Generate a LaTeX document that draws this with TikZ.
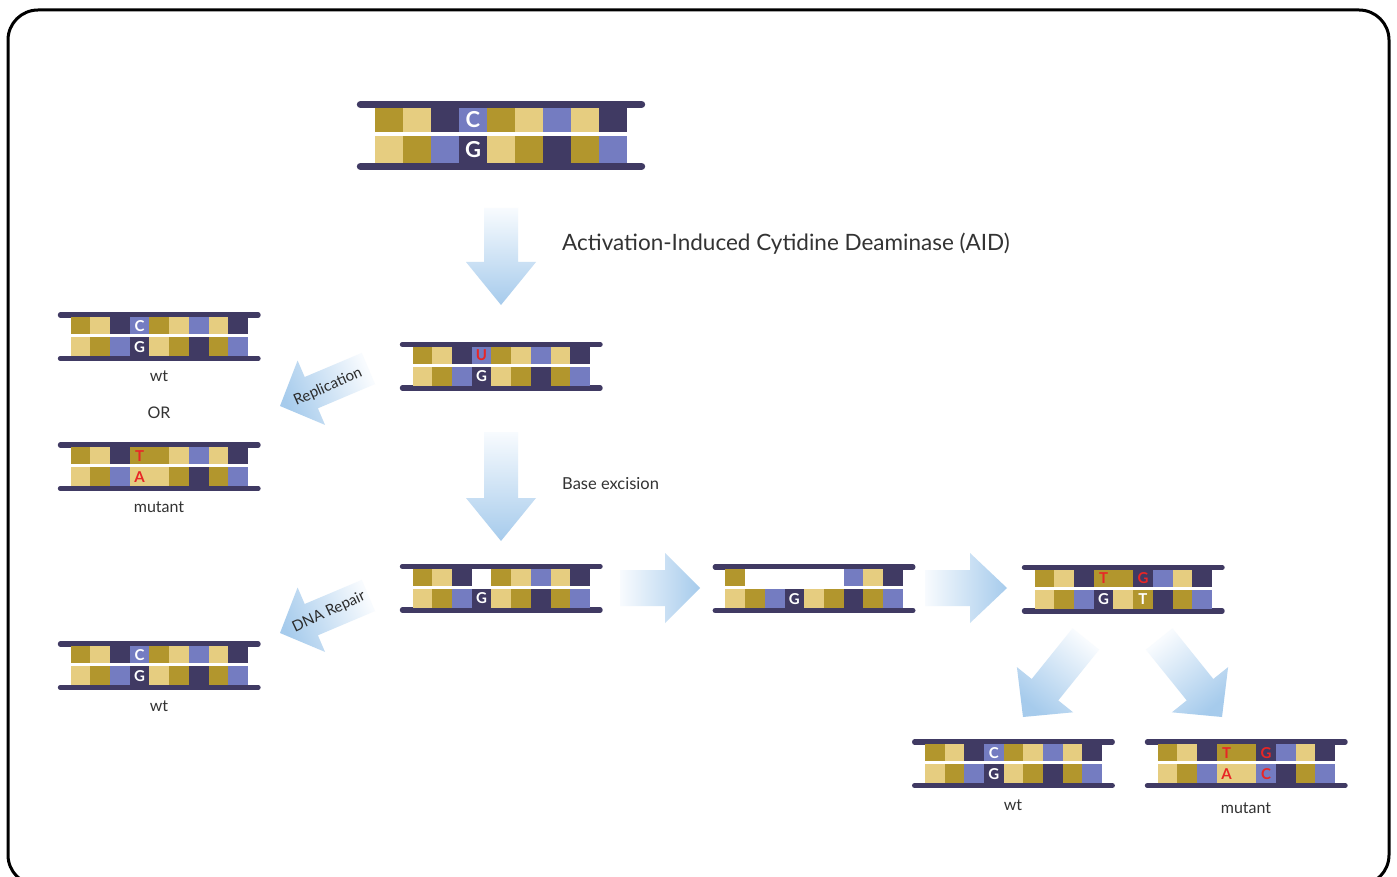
\documentclass[tikz,border=0pt]{standalone}
\usepackage{fontspec}
\setmainfont{Lato}
\usetikzlibrary{calc}

% base colours
\definecolor{dg}{RGB}{178,150,45}
\definecolor{lg}{RGB}{230,205,128}
\definecolor{bl}{RGB}{116,124,193}
\definecolor{dp}{RGB}{64,58,99}
\definecolor{mutred}{RGB}{232,38,38}
\definecolor{labelgray}{RGB}{51,51,51}
\definecolor{arrowblue}{RGB}{166,203,236}
\definecolor{arrowpale}{RGB}{248,251,254}

% one DNA piece: name, x of first cell, y of top backbone, cell size, top row, bottom row
\newcommand\dnastrand[6]{%
  \begin{scope}[shift={(#2,#3)}, x=#4pt, y=-#4pt]
    \draw[dp, line width=0.26*#4pt, line cap=round] (-0.52,0) -- (9.52,0);
    \draw[dp, line width=0.26*#4pt, line cap=round] (-0.52,2.21) -- (9.52,2.21);
    \foreach \c [count=\i from 0] in {#5} {
      \fill[fill=\c] (\i,0.12) rectangle (\i+1,0.98);
      \coordinate (#1-t\i) at (\i+0.5,0.55);
    }
    \foreach \c [count=\i from 0] in {#6} {
      \fill[fill=\c] (\i,1.14) rectangle (\i+1,2.09);
      \coordinate (#1-b\i) at (\i+0.5,1.615);
    }
  \end{scope}}

\tikzset{
  biglet/.style={font=\fontsize{22}{22}\selectfont\bfseries, text=white, inner sep=0pt},
  smalllet/.style={font=\fontsize{15}{15}\selectfont\bfseries, text=white, inner sep=0pt},
  redlet/.style={text=mutred},
  caption/.style={font=\fontsize{16}{16}\selectfont, text=labelgray, inner sep=0pt, anchor=base},
  arrowlabel/.style={font=\fontsize{15}{15}\selectfont, text=labelgray!85!black, inner sep=0pt},
  downarrow/.style={top color=arrowpale, bottom color=arrowblue, draw=none},
  rightarrow/.style={left color=arrowpale, right color=arrowblue, draw=none},
}

\begin{document}
\begin{tikzpicture}[x=1pt, y=-1pt]
\useasboundingbox (0,0) rectangle (1397,877);
\fill[white] (0,0) rectangle (1397,877);
\draw[line width=3pt, rounded corners=30pt] (8,10) rectangle (1389,885);

% ---- DNA pieces ----
\dnastrand{top}{375}{104.5}{28}{dg,lg,dp,bl,dg,lg,bl,lg,dp}{lg,dg,bl,dp,lg,dg,dp,dg,bl}
\dnastrand{udna}{412.6}{344.5}{19.7}{dg,lg,dp,bl,dg,lg,bl,lg,dp}{lg,dg,bl,dp,lg,dg,dp,dg,bl}
\dnastrand{lwt}{70.6}{315}{19.7}{dg,lg,dp,bl,dg,lg,bl,lg,dp}{lg,dg,bl,dp,lg,dg,dp,dg,bl}
\dnastrand{lmut}{70.6}{445}{19.7}{dg,lg,dp,dg,dg,lg,bl,lg,dp}{lg,dg,bl,lg,lg,dg,dp,dg,bl}
\dnastrand{exc}{412.6}{566.5}{19.7}{dg,lg,dp,white,dg,lg,bl,lg,dp}{lg,dg,bl,dp,lg,dg,dp,dg,bl}
\dnastrand{gap}{725.4}{567}{19.7}{dg,white,white,white,white,white,bl,lg,dp}{lg,dg,bl,dp,lg,dg,dp,dg,bl}
\dnastrand{rep}{1034.6}{567.5}{19.7}{dg,lg,dp,dg,dg,dp,bl,lg,dp}{lg,dg,bl,dp,lg,dg,dp,dg,bl}
\dnastrand{rwt}{924.8}{742}{19.7}{dg,lg,dp,bl,dg,lg,bl,lg,dp}{lg,dg,bl,dp,lg,dg,dp,dg,bl}
\dnastrand{rmut}{1157.6}{742}{19.7}{dg,lg,dp,dg,dg,dp,bl,lg,dp}{lg,dg,bl,lg,lg,bl,dp,dg,bl}
\dnastrand{bwt}{70.6}{644}{19.7}{dg,lg,dp,bl,dg,lg,bl,lg,dp}{lg,dg,bl,dp,lg,dg,dp,dg,bl}

% ---- bases written in the cells ----
\node[biglet] (top-C) at (top-t3) {C};
\node[biglet] (top-G) at (top-b3) {G};
\node[smalllet, redlet] (udna-U) at (udna-t3) {U};
\node[smalllet] (udna-G) at (udna-b3) {G};
\node[smalllet] (lwt-C) at (lwt-t3) {C};
\node[smalllet] (lwt-G) at (lwt-b3) {G};
\node[smalllet, redlet] (lmut-T) at (lmut-t3) {T};
\node[smalllet, redlet] (lmut-A) at (lmut-b3) {A};
\node[smalllet] (exc-G) at (exc-b3) {G};
\node[smalllet] (gap-G) at (gap-b3) {G};
\node[smalllet, redlet] (rep-T) at (rep-t3) {T};
\node[smalllet, redlet] (rep-Gr) at (rep-t5) {G};
\node[smalllet] (rep-G) at (rep-b3) {G};
\node[smalllet] (rep-Tw) at (rep-b5) {T};
\node[smalllet] (rwt-C) at (rwt-t3) {C};
\node[smalllet] (rwt-G) at (rwt-b3) {G};
\node[smalllet, redlet] (rmut-T) at (rmut-t3) {T};
\node[smalllet, redlet] (rmut-G) at (rmut-t5) {G};
\node[smalllet, redlet] (rmut-A) at (rmut-b3) {A};
\node[smalllet, redlet] (rmut-C) at (rmut-b5) {C};
\node[smalllet] (bwt-C) at (bwt-t3) {C};
\node[smalllet] (bwt-G) at (bwt-b3) {G};

% ---- captions ----
\node[caption] (cap-lwt) at (159,381) {wt};
\node[caption] (cap-or) at (159,418) {OR};
\node[caption] (cap-lmut) at (159,512) {mutant};
\node[caption] (cap-bwt) at (159,711) {wt};
\node[caption] (cap-rwt) at (1013,810) {wt};
\node[caption] (cap-rmut) at (1246,813) {mutant};
\node[font=\fontsize{22.5}{22.5}\selectfont, text=labelgray, inner sep=0pt, anchor=base west] (aid) at (562,251) {Activation-Induced Cytidine Deaminase (AID)};
\node[font=\fontsize{16.5}{16.5}\selectfont, text=labelgray, inner sep=0pt, anchor=base west] (bex) at (562,489) {Base excision};

% ---- block arrows ----
\path[downarrow] (484,208) -- (518,208) -- (518,262) -- (536,262) -- (501,305) -- (466,262) -- (484,262) -- cycle;
\path[downarrow] (484,432) -- (518,432) -- (518,498) -- (536,498) -- (501,541) -- (466,498) -- (484,498) -- cycle;
\path[rightarrow] (620,570) -- (665,570) -- (665,553) -- (700,588) -- (665,623) -- (665,606) -- (620,606) -- cycle;
\path[rightarrow] (925,570) -- (970,570) -- (970,553) -- (1007,588) -- (970,623) -- (970,606) -- (925,606) -- cycle;
\path[top color=arrowpale, bottom color=arrowblue, shading angle=-67]
  (361.8,352.9) -- (375.0,384.1) -- (317.9,408.3) -- (325.0,424.9) -- (280,406) -- (297.6,360.5) -- (304.7,377.0) -- cycle;
\path[top color=arrowpale, bottom color=arrowblue, shading angle=-67]
  (361.8,579.9) -- (375.0,611.1) -- (317.9,635.3) -- (325.0,651.9) -- (280,633) -- (297.6,587.5) -- (304.7,604.0) -- cycle;
\path[top color=arrowpale, bottom color=arrowblue, shading angle=-39]
  (1072.5,628.3) -- (1099.1,649.7) -- (1058.3,700.4) -- (1073.1,712.3) -- (1023,717) -- (1016.9,667.1) -- (1031.7,679.0) -- cycle;
\path[top color=arrowpale, bottom color=arrowblue, shading angle=39]
  (1172.5,628.3) -- (1145.9,649.7) -- (1186.7,700.4) -- (1171.9,712.3) -- (1222,717) -- (1228.1,667.1) -- (1213.3,679.0) -- cycle;

\node[arrowlabel, rotate=24] (lab-rep) at (328,387) {Replication};
\node[arrowlabel, rotate=25] (lab-rep2) at (329,612) {DNA Repair};
\end{tikzpicture}
\end{document}
